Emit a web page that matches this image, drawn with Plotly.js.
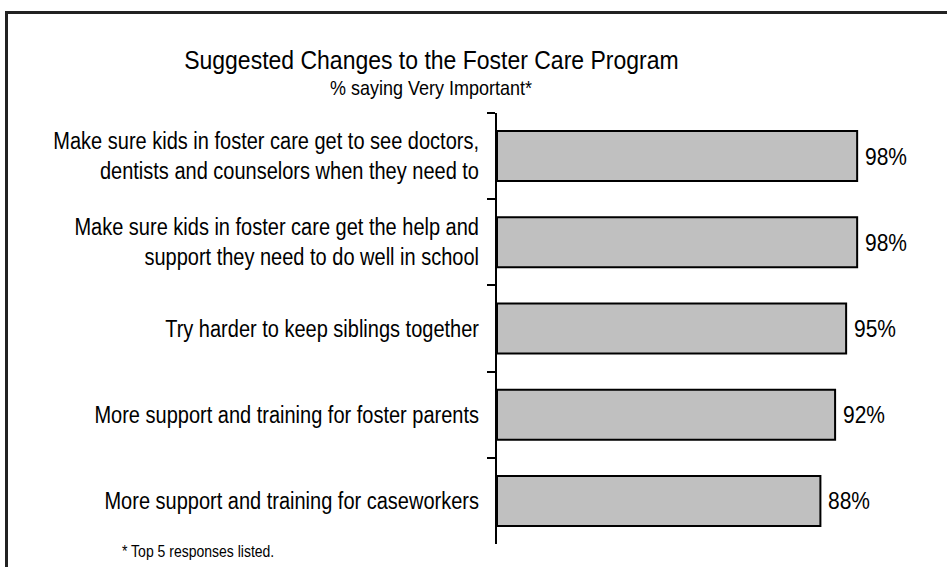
<!DOCTYPE html>
<html><head><meta charset="utf-8">
<script src="https://cdn.plot.ly/plotly-3.0.1.min.js"></script>
<style>
html,body{margin:0;padding:0;background:#fff;}
#wrap{position:relative;width:947px;height:567px;}
#chart{position:absolute;left:0;top:0;width:947px;height:567px;}
#frame{position:absolute;left:5px;top:11px;width:942px;height:556px;border-top:3px solid #222;border-left:3px solid #222;box-sizing:border-box;pointer-events:none;}
</style>
</head><body>
<div id="wrap"><div id="chart"></div><div id="frame"></div></div>
<script>
const categories = [
  "Make sure kids in foster care get to see doctors,<br>dentists and counselors when they need to",
  "Make sure kids in foster care get the help and<br>support they need to do well in school",
  "Try harder to keep siblings together",
  "More support and training for foster parents",
  "More support and training for caseworkers"
];
const values = [98, 98, 95, 92, 88];
const labels = ["98%", "98%", "95%", "92%", "88%"];
const titleText = "Suggested Changes to the Foster Care Program";
const subtitleText = "% saying Very Important*";
const footnoteText = "* Top 5 responses listed.";

const W = 947, H = 567;
const mL = 497, mR = 9, mT = 113, mB = 23;
const pw = W - mL - mR, ph = H - mT - mB;
const px = x => (x - mL) / pw;
const py = y => (H - mB - y) / ph;

const font = "Arial, 'Liberation Sans', sans-serif";
const TEXT_STRETCH = 1.15;

const trace = {
  type: 'bar',
  orientation: 'h',
  y: categories,
  x: values,
  marker: {color: '#c0c0c0', line: {color: '#000', width: 2}},
  width: 0.58,
  hoverinfo: 'skip'
};

const valueAnnotations = values.map((v, i) => ({
  x: v, y: categories[i], xref: 'x', yref: 'y',
  text: labels[i], showarrow: false, xanchor: 'left', yanchor: 'middle',
  xshift: 6, font: {family: font, size: 21, color: '#000'}
}));

const layout = {
  width: W, height: H,
  margin: {l: mL, r: mR, t: mT, b: mB, pad: 0},
  paper_bgcolor: '#fff', plot_bgcolor: '#fff',
  showlegend: false,
  font: {family: font, color: '#000'},
  xaxis: {range: [0, 120], visible: false, fixedrange: true},
  yaxis: {
    type: 'category', autorange: 'reversed',
    showline: true, linecolor: '#000', linewidth: 2,
    ticks: 'outside', tickson: 'boundaries', ticklen: 8, tickwidth: 2, tickcolor: '#000',
    showgrid: false, zeroline: false,
    tickfont: {family: font, size: 20, color: '#000'},
    ticklabelstandoff: 12,
    fixedrange: true
  },
  annotations: [
    {text: titleText, xref: 'paper', yref: 'paper', x: px(431), y: py(60), xanchor: 'center', yanchor: 'middle', showarrow: false, font: {family: font, size: 23, color: '#000'}},
    {text: subtitleText, xref: 'paper', yref: 'paper', x: px(431), y: py(88), xanchor: 'center', yanchor: 'middle', showarrow: false, font: {family: font, size: 18, color: '#000'}},
    {text: footnoteText, xref: 'paper', yref: 'paper', x: px(120), y: py(551), xanchor: 'left', yanchor: 'middle', showarrow: false, font: {family: font, size: 14, color: '#000'}}
  ].concat(valueAnnotations)
};

Plotly.newPlot('chart', [trace], layout, {displayModeBar: false, staticPlot: true}).then(gd => {
  // Reference text is drawn slightly taller than its width suggests; stretch each text vertically about its own centre.
  gd.querySelectorAll('svg text').forEach(t => {
    if (!t.textContent) return;
    const b = t.getBBox();
    const cy = b.y + b.height / 2;
    const prev = t.getAttribute('transform') || '';
    t.setAttribute('transform', prev + ` translate(0,${cy}) scale(1,${TEXT_STRETCH}) translate(0,${-cy})`);
  });
});
</script>
</body></html>
